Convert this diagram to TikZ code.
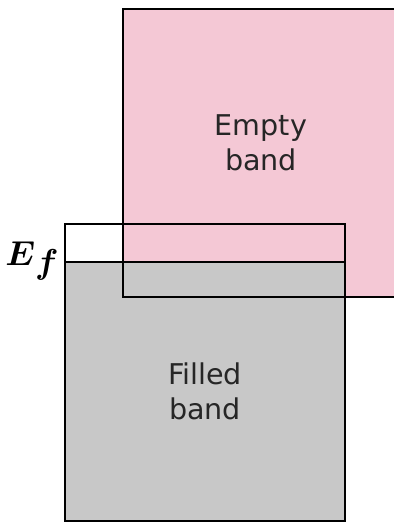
\documentclass[tikz,border=0pt]{standalone}
\usepackage{amsmath}
\usepackage{amssymb}
\usepackage{fontspec}
\newfontfamily\bandfont{DejaVu Sans}
\definecolor{emptypink}{RGB}{244,200,213}
\definecolor{filledgray}{RGB}{200,200,200}

\begin{document}
\begin{tikzpicture}[
  x=0.5pt,y=-0.5pt,
  bandline/.style={draw=black,line width=1pt},
  bandtext/.style={font=\bandfont\fontsize{14.3}{17.5}\selectfont,align=center,text=black!85,inner sep=0pt}]
  \useasboundingbox(0,0) rectangle (394,523);
  \clip(0,0) rectangle (394,523);
  % fills first, outlines on top
  \fill[emptypink](123,9) rectangle (400,297);
  \fill[filledgray](65,262) rectangle (345,521);
  \draw[bandline](123,9) rectangle (400,297);
  \draw[bandline](65,224) rectangle (345,521);
  \draw[bandline](65,262)--(345,262);
  \node[bandtext](empty) at(261,143){Empty\\band};
  \node[bandtext](filled) at(205,391){Filled\\band};
  \node[font=\fontsize{16}{19}\selectfont,anchor=base east,inner sep=0pt](ef) at(59,265){$\boldsymbol{E}\raisebox{-4pt}{$\boldsymbol{f}$}$};
\end{tikzpicture}
\end{document}
